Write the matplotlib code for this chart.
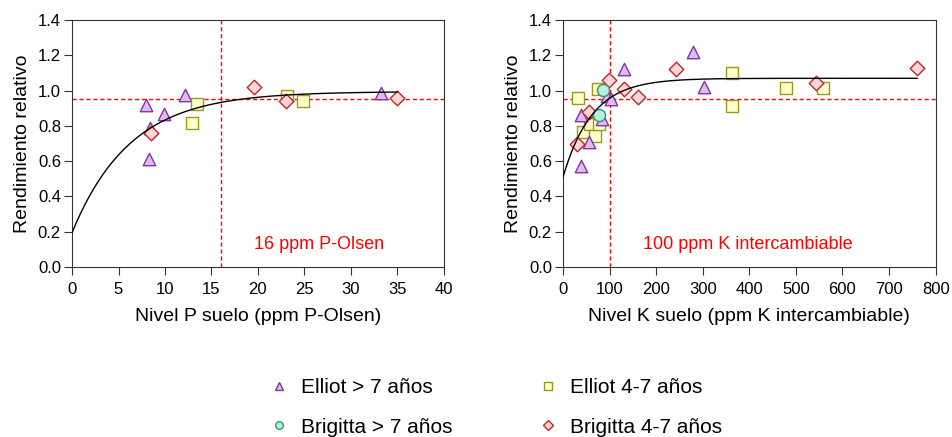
import numpy as np
import matplotlib
matplotlib.use("Agg")
import matplotlib.pyplot as plt
from matplotlib.lines import Line2D

plt.rcParams['font.family'] = ['Liberation Sans', 'DejaVu Sans']

# ---- P panel data (ppm P-Olsen, rendimiento relativo)
p_elliot_old_x = [8.0, 8.4, 8.3, 9.9, 12.2, 33.3]
p_elliot_old_y = [0.92, 0.79, 0.615, 0.865, 0.975, 0.988]
p_elliot_young_x = [13.4, 12.9, 23.1, 24.9]
p_elliot_young_y = [0.923, 0.817, 0.97, 0.944]
p_brigitta_young_x = [8.5, 19.6, 23.0, 35.0]
p_brigitta_young_y = [0.76, 1.02, 0.942, 0.961]

# ---- K panel data (ppm K intercambiable)
k_elliot_old_x = [38, 38, 56, 84, 95, 102, 130, 278, 303]
k_elliot_old_y = [0.861, 0.573, 0.71, 0.84, 0.97, 0.95, 1.122, 1.217, 1.022]
k_elliot_young_x = [33, 43, 57, 68, 78, 75, 363, 363, 478, 559]
k_elliot_young_y = [0.956, 0.766, 0.81, 0.744, 0.81, 1.007, 1.098, 0.912, 1.016, 1.016]
k_brigitta_old_x = [85, 78]
k_brigitta_old_y = [1.003, 0.861]
k_brigitta_young_x = [30, 55, 99, 130, 161, 242, 543, 760]
k_brigitta_young_y = [0.696, 0.88, 1.06, 1.007, 0.965, 1.122, 1.046, 1.131]

# fitted Mitscherlich curves y = a - b*exp(-c*x), drawn up to xmax
p_fit = (0.995, 0.80, 0.16, 35)
k_fit = (1.07, 0.56, 0.016, 760)

p_crit = 16
k_crit = 100
rr_crit = 0.95

styles = {
    'Elliot > 7 años': dict(marker='^', fc='#e6b8f2', ec='#7a3a9a'),
    'Elliot 4-7 años': dict(marker='s', fc='#ffffcc', ec='#999922'),
    'Brigitta > 7 años': dict(marker='o', fc='#b8f0dc', ec='#2a9a7a'),
    'Brigitta 4-7 años': dict(marker='D', fc='#ffd6d6', ec='#c02828'),
}
sizes = {'^': 80, 's': 70, 'o': 75, 'D': 55}

fig = plt.figure(figsize=(9.53, 4.37), dpi=100)
ax1 = fig.add_axes([0.0756, 0.389, 0.390, 0.565])
ax2 = fig.add_axes([0.5908, 0.389, 0.391, 0.565])


def scat(ax, x, y, key):
    st = styles[key]
    ax.scatter(x, y, marker=st['marker'], s=sizes[st['marker']], facecolor=st['fc'],
               edgecolor=st['ec'], linewidth=1.0, zorder=3)


def fit_line(ax, pars):
    a, b, c, xmax = pars
    xx = np.linspace(0, xmax, 300)
    ax.plot(xx, a - b * np.exp(-c * xx), color='black', lw=1.0, zorder=4)


scat(ax1, p_elliot_old_x, p_elliot_old_y, 'Elliot > 7 años')
scat(ax1, p_elliot_young_x, p_elliot_young_y, 'Elliot 4-7 años')
scat(ax1, p_brigitta_young_x, p_brigitta_young_y, 'Brigitta 4-7 años')
fit_line(ax1, p_fit)

scat(ax2, k_elliot_young_x, k_elliot_young_y, 'Elliot 4-7 años')
scat(ax2, k_elliot_old_x, k_elliot_old_y, 'Elliot > 7 años')
scat(ax2, k_brigitta_young_x, k_brigitta_young_y, 'Brigitta 4-7 años')
scat(ax2, k_brigitta_old_x, k_brigitta_old_y, 'Brigitta > 7 años')
fit_line(ax2, k_fit)

for ax, crit, xmax, step, xlabel, txt, tx in [
        (ax1, p_crit, 40, 5, 'Nivel P suelo (ppm P-Olsen)', '16 ppm P-Olsen', 0.49),
        (ax2, k_crit, 800, 100, 'Nivel K suelo (ppm K intercambiable)', '100 ppm K intercambiable', 0.215)]:
    ax.axvline(crit, color='red', ls=(0, (3, 2)), lw=1.0, zorder=2)
    ax.axhline(rr_crit, color='red', ls=(0, (3, 2)), lw=1.0, zorder=2)
    ax.set_xlim(0, xmax)
    ax.set_ylim(0, 1.4)
    ax.set_xticks(np.arange(0, xmax + 1, step))
    ax.set_yticks(np.arange(0, 1.41, 0.2))
    ax.set_yticklabels([f'{v:.1f}' for v in np.arange(0, 1.41, 0.2)])
    ax.tick_params(direction='out', length=6, labelsize=12, color='#333333', pad=2)
    ax.tick_params(axis='x', pad=5)
    for s in ax.spines.values():
        s.set_color('#333333')
    ax.set_xlabel(xlabel, fontsize=14, labelpad=8)
    ax.set_ylabel('Rendimiento relativo', fontsize=14, labelpad=5)
    ax.text(tx, 0.09, txt, color='red', fontsize=13, ha='left', va='center',
            transform=ax.transAxes)

handles = []
for key in ['Elliot > 7 años', 'Brigitta > 7 años', 'Elliot 4-7 años', 'Brigitta 4-7 años']:
    st = styles[key]
    handles.append(Line2D([], [], ls='none', marker=st['marker'], markersize=5.5,
                          markerfacecolor=st['fc'], markeredgecolor=st['ec'], label=key))
fig.legend(handles=handles, ncol=2, loc='center', bbox_to_anchor=(0.52, 0.068),
           frameon=False, fontsize=15, columnspacing=4.1, handlelength=1.0,
           handletextpad=0.56, labelspacing=1.0)

fig.savefig('out.png', dpi=100)
